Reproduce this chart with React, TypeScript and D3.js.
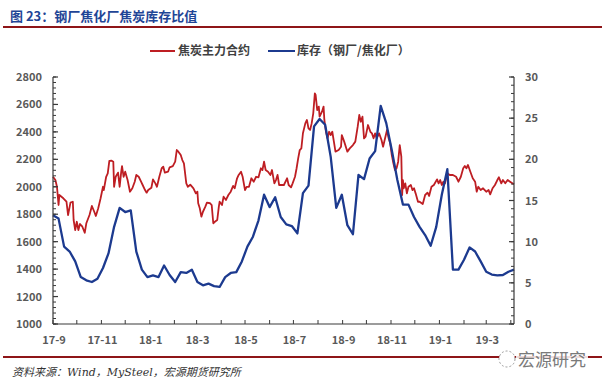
import React from "react";
import * as d3 from "d3";

const W = 606;
const H = 387;

// x axis: weekly inventory ratio from 2017-09-01 (Fridays)
const startDate = new Date(2017, 8, 1);
const endDate = new Date(2019, 3, 5);

const xTickLabels = ["17-9", "17-11", "18-1", "18-3", "18-5", "18-7", "18-9", "18-11", "19-1", "19-3"];
const leftTicks = [1000, 1200, 1400, 1600, 1800, 2000, 2200, 2400, 2600, 2800];
const rightTicks = [0, 5, 10, 15, 20, 25, 30];

// 库存（钢厂/焦化厂） weekly
const inventoryRatio = [
  13.2, 12.8, 9.4, 8.8, 7.6, 5.7, 5.3, 5.1, 5.5, 6.8,
  8.6, 11.8, 14.1, 13.6, 13.8, 8.8, 6.6, 5.7, 5.9, 5.7,
  7.1, 5.95, 5.1, 6.3, 6.2, 6.6, 5.1, 4.7, 4.9, 4.6,
  4.5, 5.7, 6.2, 6.3, 7.6, 9.4, 10.6, 12.6, 15.7, 14.2,
  15.4, 13.0, 12.1, 11.9, 11.0, 15.9, 16.8, 24.0, 24.9, 24.2,
  20.3, 14.1, 15.7, 12.0, 10.9, 18.1, 17.6, 20.1, 21.0, 26.5,
  24.4, 21.1, 17.5, 14.5, 14.5, 13.0, 11.8, 10.8, 9.5, 11.8,
  15.7, 18.8, 6.6, 6.6, 7.8, 9.3, 8.8, 7.6, 6.35, 6.0,
  5.9, 5.95, 6.35, 6.6,
];

// 焦炭主力合约: day offsets from 2017-09-01 and prices
const cokeDayOffsets = [
  0, 3, 5, 7, 8, 13, 17, 19, 22, 25, 26, 28, 30, 32, 34, 37, 40, 42, 46, 49,
  52, 54, 57, 60, 63, 64, 67, 69, 71, 74, 76, 77, 79, 82, 84, 86, 87, 89, 91, 94,
  97, 100, 103, 105, 108, 111, 113, 116, 118, 120, 124, 126, 129, 131, 134, 137, 139, 141, 145, 147,
  151, 154, 156, 158, 161, 163, 165, 168, 170, 173, 177, 180, 182, 183, 185, 187, 189, 192, 194, 198,
  200, 202, 204, 207, 209, 210, 213, 215, 218, 221, 224, 227, 229, 232, 234, 237, 239, 242, 244, 247,
  250, 253, 256, 259, 262, 264, 266, 268, 271, 274, 276, 279, 281, 283, 285, 288, 291, 295, 297, 300,
  302, 305, 307, 309, 311, 313, 315, 318, 320, 322, 324, 326, 328, 330, 331, 333, 335, 336, 339, 341,
  342, 344, 346, 348, 350, 352, 354, 356, 360, 363, 364, 367, 371, 374, 378, 381, 384, 386, 388, 390,
  392, 394, 397, 400, 402, 404, 406, 408, 411, 414, 416, 418, 421, 423, 425, 427, 429, 431, 433, 435,
  437, 439, 440, 441, 442, 444, 446, 448, 451, 453, 455, 457, 460, 462, 466, 469, 472, 474, 477, 480,
  484, 486, 488, 490, 492, 494, 497, 500, 504, 508, 511, 514, 517, 519, 521, 523, 526, 529, 532, 534,
  536, 539, 542, 546, 549, 551, 554, 557, 560, 562, 565, 567, 570, 573, 576, 579, 581,
];
const cokePrice = [
  2073, 2049, 2000, 1867, 1940, 1916, 1891, 1794, 1884, 1891, 1758, 1685, 1745, 1685, 1729, 1709, 1665, 1734, 1794, 1860,
  1818, 1787, 1843, 1916, 2000, 1976, 2073, 2098, 2188, 2190, 2183, 2000, 2073, 2103, 2000, 2110, 2151, 2073, 2110, 2049,
  1964, 1989, 2037, 2086, 2073, 2037, 2013, 1976, 1957, 1976, 1993, 2054, 2025, 2000, 2073, 2135, 2146, 2103, 2110, 2142,
  2151, 2183, 2268, 2256, 2231, 2195, 2171, 2025, 2000, 2015, 1989, 1952, 1964, 1880, 1843, 1782, 1818, 1855, 1884, 1880,
  1867, 1734, 1745, 1758, 1855, 1891, 1867, 1928, 1904, 1940, 1964, 2006, 1989, 2062, 2086, 2110, 2073, 1976, 2000, 2000,
  2062, 2037, 2073, 2069, 2135, 2122, 2183, 2122, 2110, 2086, 2122, 2025, 2049, 2086, 2013, 2013, 2013, 2062, 2013, 1996,
  2025, 2073, 2135, 2207, 2268, 2280, 2390, 2462, 2487, 2426, 2414, 2462, 2535, 2681, 2669, 2559, 2584, 2511, 2547, 2584,
  2487, 2401, 2353, 2401, 2377, 2401, 2329, 2256, 2268, 2292, 2377, 2329, 2256, 2280, 2304, 2329, 2438, 2523, 2474, 2511,
  2353, 2365, 2450, 2401, 2389, 2353, 2389, 2353, 2389, 2341, 2292, 2341, 2414, 2353, 2317, 2231, 2171, 2122, 2135, 2183,
  2304, 2219, 1940, 2049, 1989, 2025, 1952, 2000, 2013, 1976, 1989, 1952, 1891, 1891, 1874, 1940, 1957, 1933, 2000, 2013,
  2054, 2025, 2049, 2013, 2037, 2025, 2098, 2086, 2086, 2073, 2037, 2073, 2135, 2151, 2135, 2159, 2110, 2062, 2037, 1964,
  2000, 1976, 1989, 1964, 1976, 1945, 1989, 2013, 2049, 2069, 2025, 2049, 2025, 2049, 2037, 2025, 2019,
];

const RED = "#BE1E23";
const BLUE = "#1C3A8F";
const AXIS = "#3a3a3a";
const LABEL = "#595959";
const FONT = "'Noto Sans CJK SC', 'Noto Sans', sans-serif";

export default function App() {
  const left = 53;
  const right = 514;
  const top = 77;
  const bottom = 324;

  const x = d3.scaleTime().domain([startDate, endDate]).range([left, right]);
  const yL = d3.scaleLinear().domain([1000, 2800]).range([bottom, top]);
  const yR = d3.scaleLinear().domain([0, 30]).range([bottom, top]);

  const blueData = inventoryRatio.map((v, i) => ({ d: d3.timeDay.offset(startDate, i * 7), v }));
  const redData = cokePrice.map((v, i) => ({ d: d3.timeDay.offset(startDate, cokeDayOffsets[i]), v }));

  const blueLine = d3
    .line<{ d: Date; v: number }>()
    .x((p) => x(p.d))
    .y((p) => yR(p.v));
  const redLine = d3
    .line<{ d: Date; v: number }>()
    .x((p) => x(p.d))
    .y((p) => yL(p.v));

  const months = d3.timeMonth.range(startDate, d3.timeDay.offset(endDate, 1));
  const fmt = d3.timeFormat("%y-%-m");
  const labeledMonths = months.filter((m) => xTickLabels.includes(fmt(m)));

  const leftMinor = d3.range(1000, 2801, 40);
  const rightMinor = d3.range(0, 31, 1);

  return (
    <svg
      width={W}
      height={H}
      style={{ position: "absolute", left: 0, top: 0, background: "#fff" }}
      fontFamily={FONT}
    >
      <rect x={0} y={0} width={W} height={H} fill="#fff" />
      {/* title */}
      <text x={10} y={21} fontSize={13} fontWeight="bold" fill="#1F4596">
        图 23：钢厂焦化厂焦炭库存比值
      </text>
      <line x1={3} x2={602} y1={27} y2={27} stroke="#8E1518" strokeWidth={2} />

      {/* legend */}
      <line x1={150} x2={175} y1={51} y2={51} stroke={RED} strokeWidth={2} />
      <text x={178} y={55} fontSize={12} fontWeight="bold" fill="#404040">
        焦炭主力合约
      </text>
      <line x1={268} x2={295} y1={51} y2={51} stroke={BLUE} strokeWidth={2} />
      <text x={297} y={55} fontSize={12} fontWeight="bold" fill="#404040">
        库存（钢厂/焦化厂）
      </text>

      {/* series */}
      <path d={redLine(redData) || ""} fill="none" stroke={RED} strokeWidth={1.8} strokeLinejoin="round" />
      <path d={blueLine(blueData) || ""} fill="none" stroke={BLUE} strokeWidth={2.3} strokeLinejoin="round" />

      {/* left axis */}
      <line x1={left} x2={left} y1={top} y2={bottom} stroke={AXIS} strokeWidth={1.2} />
      {leftMinor.map((t) => (
        <line key={"lm" + t} x1={left} x2={left + 3} y1={yL(t)} y2={yL(t)} stroke={AXIS} strokeWidth={1} />
      ))}
      {leftTicks.map((t) => (
        <g key={"l" + t}>
          <line x1={left} x2={left + 5} y1={yL(t)} y2={yL(t)} stroke={AXIS} strokeWidth={1.2} />
          <text x={left - 11} y={yL(t) + 4} fontSize={11} fontWeight="bold" fill={LABEL} textAnchor="end">
            {t}
          </text>
        </g>
      ))}

      {/* right axis */}
      <line x1={right} x2={right} y1={top} y2={bottom} stroke={AXIS} strokeWidth={1.2} />
      {rightMinor.map((t) => (
        <line key={"rm" + t} x1={right - 3} x2={right} y1={yR(t)} y2={yR(t)} stroke={AXIS} strokeWidth={1} />
      ))}
      {rightTicks.map((t) => (
        <g key={"r" + t}>
          <line x1={right - 5} x2={right} y1={yR(t)} y2={yR(t)} stroke={AXIS} strokeWidth={1.2} />
          <text x={right + 11} y={yR(t) + 4} fontSize={11} fontWeight="bold" fill={LABEL} textAnchor="start">
            {t}
          </text>
        </g>
      ))}

      {/* x axis */}
      <line x1={left} x2={right} y1={bottom} y2={bottom} stroke={AXIS} strokeWidth={1.2} />
      {months.map((m) => (
        <line key={"xt" + m.getTime()} x1={x(m)} x2={x(m)} y1={bottom} y2={bottom - 4} stroke={AXIS} strokeWidth={1} />
      ))}
      {labeledMonths.map((m) => (
        <text key={"xl" + m.getTime()} x={x(m) + 1} y={344} fontSize={11} fontWeight="bold" fill={LABEL} textAnchor="middle">
          {xTickLabels[xTickLabels.indexOf(fmt(m))]}
        </text>
      ))}

      {/* footer */}
      <line x1={3} x2={602} y1={357} y2={357} stroke="#8E1518" strokeWidth={2} />
      <text x={12} y={376} fontSize={11} fontStyle="italic" fill="#333" fontFamily="'DejaVu Serif', 'Noto Sans CJK SC', serif">
        资料来源：Wind，MySteel，宏源期货研究所
      </text>

      {/* watermark */}
      <circle cx={507} cy={359} r={8} fill="#fff" stroke="#9a9a9a" strokeWidth={1} strokeDasharray="2 2" />
      <rect x={516} y={349} width={72} height={20} fill="#fff" opacity={0.85} />
      <text x={518} y={366} fontSize={17} fill="#7a7a7a">
        宏源研究
      </text>
    </svg>
  );
}
